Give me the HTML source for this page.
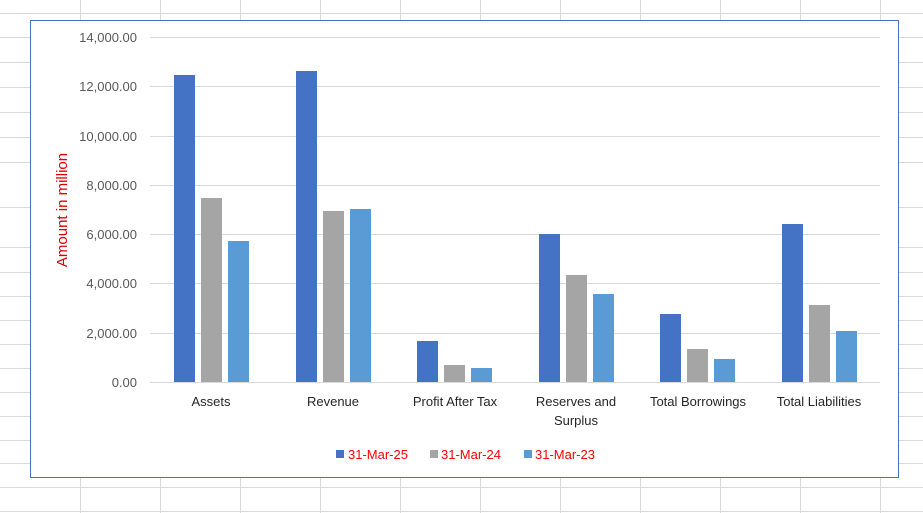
<!DOCTYPE html>
<html><head><meta charset="utf-8"><style>
html,body{margin:0;padding:0;background:#fff;}
svg{display:block;font-family:"Liberation Sans",Calibri,sans-serif;}
</style></head><body>
<svg width="923" height="513" viewBox="0 0 923 513" xmlns="http://www.w3.org/2000/svg">
<g stroke="#d9d9d9" stroke-width="1">
<line x1="0" y1="13.5" x2="923" y2="13.5"/>
<line x1="0" y1="487.5" x2="923" y2="487.5"/>
<line x1="0" y1="511.5" x2="923" y2="511.5"/>
<line x1="80.5" y1="0" x2="80.5" y2="20"/><line x1="160.5" y1="0" x2="160.5" y2="20"/><line x1="240.5" y1="0" x2="240.5" y2="20"/><line x1="320.5" y1="0" x2="320.5" y2="20"/><line x1="400.5" y1="0" x2="400.5" y2="20"/><line x1="480.5" y1="0" x2="480.5" y2="20"/><line x1="560.5" y1="0" x2="560.5" y2="20"/><line x1="640.5" y1="0" x2="640.5" y2="20"/><line x1="720.5" y1="0" x2="720.5" y2="20"/><line x1="800.5" y1="0" x2="800.5" y2="20"/><line x1="880.5" y1="0" x2="880.5" y2="20"/>
<line x1="80.5" y1="478" x2="80.5" y2="513"/><line x1="160.5" y1="478" x2="160.5" y2="513"/><line x1="240.5" y1="478" x2="240.5" y2="513"/><line x1="320.5" y1="478" x2="320.5" y2="513"/><line x1="400.5" y1="478" x2="400.5" y2="513"/><line x1="480.5" y1="478" x2="480.5" y2="513"/><line x1="560.5" y1="478" x2="560.5" y2="513"/><line x1="640.5" y1="478" x2="640.5" y2="513"/><line x1="720.5" y1="478" x2="720.5" y2="513"/><line x1="800.5" y1="478" x2="800.5" y2="513"/><line x1="880.5" y1="478" x2="880.5" y2="513"/>
<line x1="0" y1="37.5" x2="30" y2="37.5"/><line x1="0" y1="62.5" x2="30" y2="62.5"/><line x1="0" y1="87.5" x2="30" y2="87.5"/><line x1="0" y1="112.5" x2="30" y2="112.5"/><line x1="0" y1="137.5" x2="30" y2="137.5"/><line x1="0" y1="162.5" x2="30" y2="162.5"/><line x1="0" y1="207.5" x2="30" y2="207.5"/><line x1="0" y1="247.5" x2="30" y2="247.5"/><line x1="0" y1="272.5" x2="30" y2="272.5"/><line x1="0" y1="296.5" x2="30" y2="296.5"/><line x1="0" y1="320.5" x2="30" y2="320.5"/><line x1="0" y1="344.5" x2="30" y2="344.5"/><line x1="0" y1="368.5" x2="30" y2="368.5"/><line x1="0" y1="392.5" x2="30" y2="392.5"/><line x1="0" y1="416.5" x2="30" y2="416.5"/><line x1="0" y1="440.5" x2="30" y2="440.5"/><line x1="0" y1="463.5" x2="30" y2="463.5"/>
<line x1="899" y1="37.5" x2="923" y2="37.5"/><line x1="899" y1="62.5" x2="923" y2="62.5"/><line x1="899" y1="87.5" x2="923" y2="87.5"/><line x1="899" y1="112.5" x2="923" y2="112.5"/><line x1="899" y1="137.5" x2="923" y2="137.5"/><line x1="899" y1="162.5" x2="923" y2="162.5"/><line x1="899" y1="207.5" x2="923" y2="207.5"/><line x1="899" y1="247.5" x2="923" y2="247.5"/><line x1="899" y1="272.5" x2="923" y2="272.5"/><line x1="899" y1="296.5" x2="923" y2="296.5"/><line x1="899" y1="320.5" x2="923" y2="320.5"/><line x1="899" y1="344.5" x2="923" y2="344.5"/><line x1="899" y1="368.5" x2="923" y2="368.5"/><line x1="899" y1="392.5" x2="923" y2="392.5"/><line x1="899" y1="416.5" x2="923" y2="416.5"/><line x1="899" y1="440.5" x2="923" y2="440.5"/><line x1="899" y1="463.5" x2="923" y2="463.5"/>
</g>
<rect x="30.5" y="20.5" width="868" height="457" fill="#fff" stroke="#4472C4" stroke-width="1"/>
<g stroke="#d9d9d9" stroke-width="1">
<line x1="150" y1="37.5" x2="880" y2="37.5"/><line x1="150" y1="86.5" x2="880" y2="86.5"/><line x1="150" y1="136.5" x2="880" y2="136.5"/><line x1="150" y1="185.5" x2="880" y2="185.5"/><line x1="150" y1="234.5" x2="880" y2="234.5"/><line x1="150" y1="283.5" x2="880" y2="283.5"/><line x1="150" y1="333.5" x2="880" y2="333.5"/><line x1="150" y1="382.5" x2="880" y2="382.5"/>
</g>
<g font-size="13" fill="#595959" text-anchor="end">
<text x="137" y="42">14,000.00</text><text x="137" y="91">12,000.00</text><text x="137" y="141">10,000.00</text><text x="137" y="190">8,000.00</text><text x="137" y="239">6,000.00</text><text x="137" y="288">4,000.00</text><text x="137" y="338">2,000.00</text><text x="137" y="387">0.00</text>
</g>
<text transform="translate(67,210) rotate(-90)" text-anchor="middle" font-size="15" fill="#e00000">Amount in million</text>
<g>
<rect x="174" y="75" width="21" height="307" fill="#4472C4"/><rect x="201" y="198" width="21" height="184" fill="#A5A5A5"/><rect x="228" y="241" width="21" height="141" fill="#5B9BD5"/>
<rect x="296" y="71" width="21" height="311" fill="#4472C4"/><rect x="323" y="211" width="21" height="171" fill="#A5A5A5"/><rect x="350" y="209" width="21" height="173" fill="#5B9BD5"/>
<rect x="417" y="341" width="21" height="41" fill="#4472C4"/><rect x="444" y="365" width="21" height="17" fill="#A5A5A5"/><rect x="471" y="368" width="21" height="14" fill="#5B9BD5"/>
<rect x="539" y="234" width="21" height="148" fill="#4472C4"/><rect x="566" y="275" width="21" height="107" fill="#A5A5A5"/><rect x="593" y="294" width="21" height="88" fill="#5B9BD5"/>
<rect x="660" y="314" width="21" height="68" fill="#4472C4"/><rect x="687" y="349" width="21" height="33" fill="#A5A5A5"/><rect x="714" y="359" width="21" height="23" fill="#5B9BD5"/>
<rect x="782" y="224" width="21" height="158" fill="#4472C4"/><rect x="809" y="305" width="21" height="77" fill="#A5A5A5"/><rect x="836" y="331" width="21" height="51" fill="#5B9BD5"/>
</g>
<g font-size="13" fill="#262626" text-anchor="middle">
<text x="211" y="406">Assets</text><text x="333" y="406">Revenue</text><text x="455" y="406">Profit After Tax</text><text x="576" y="406">Reserves and</text><text x="576" y="425">Surplus</text><text x="698" y="406">Total Borrowings</text><text x="819" y="406">Total Liabilities</text>
</g>
<rect x="336" y="450" width="8" height="8" fill="#4472C4"/><text x="348" y="459" font-size="13" fill="#ff0000">31-Mar-25</text>
<rect x="430" y="450" width="8" height="8" fill="#A5A5A5"/><text x="441" y="459" font-size="13" fill="#ff0000">31-Mar-24</text>
<rect x="524" y="450" width="8" height="8" fill="#5B9BD5"/><text x="535" y="459" font-size="13" fill="#ff0000">31-Mar-23</text>
</svg>
</body></html>
